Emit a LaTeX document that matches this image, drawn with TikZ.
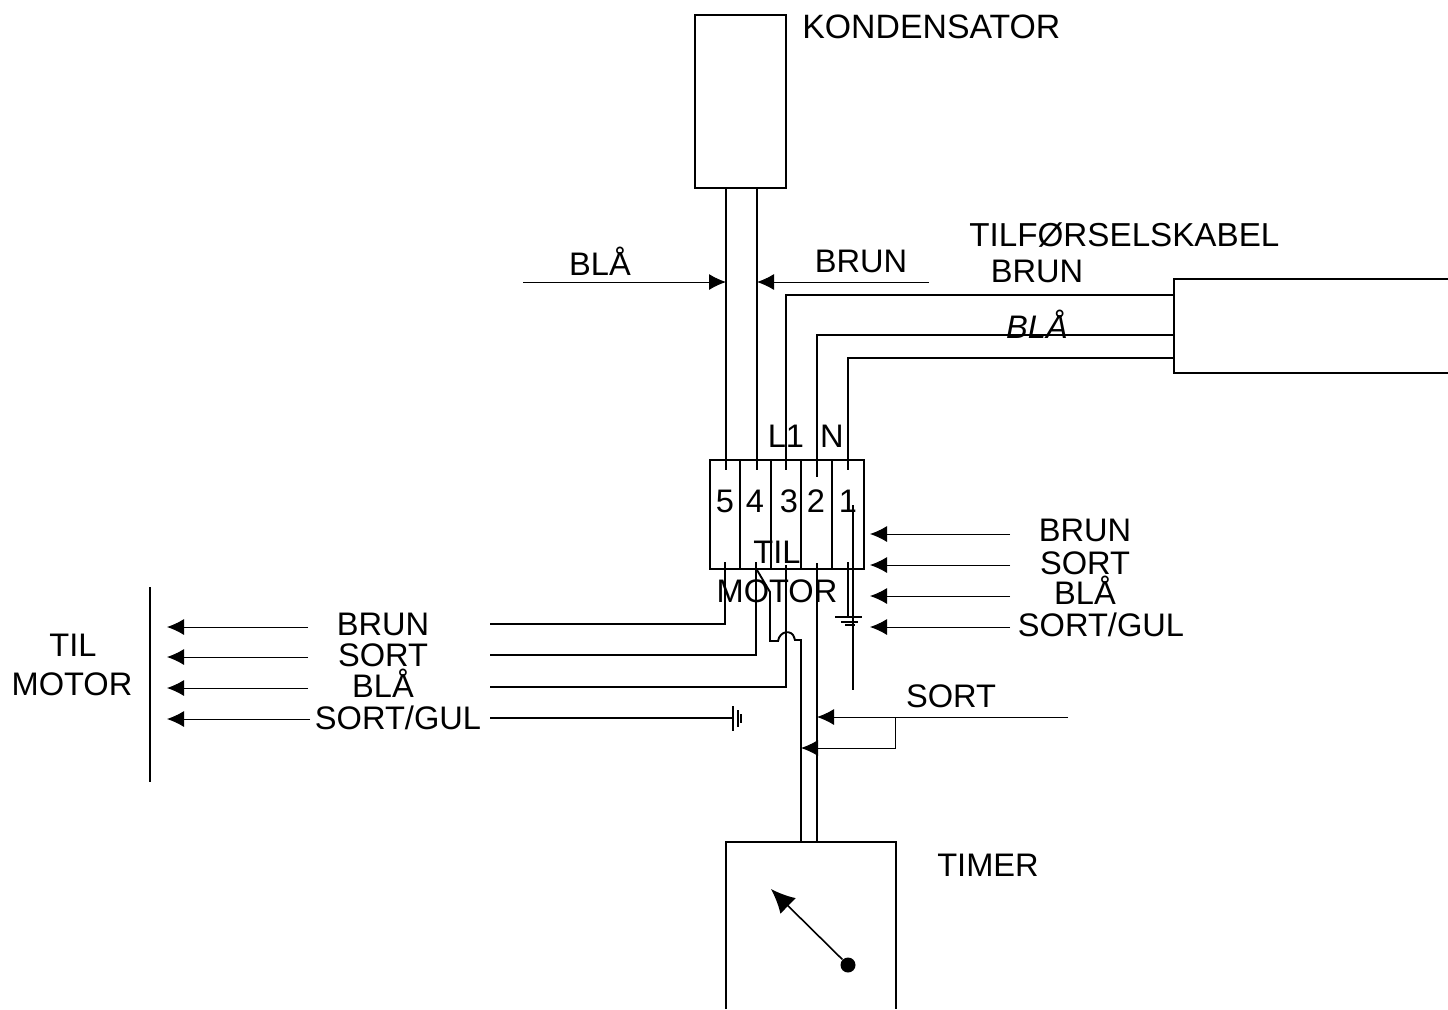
\documentclass[tikz,border=0pt]{standalone}
\usepackage{fontspec}
\setmainfont{Liberation Sans}
\usetikzlibrary{arrows.meta}
\begin{document}
\begin{tikzpicture}[x=0.5pt,y=-0.5pt,
  wire/.style={line width=0.95pt},
  thin wire/.style={line width=0.65pt},
  box/.style={draw,line width=0.9pt,inner sep=0pt,outer sep=0pt,anchor=north west},
  arr/.style={line width=0.5pt,-{Latex[length=8.5pt,width=8pt]}},
  needle/.style={line width=0.8pt,-{Latex[length=12pt,width=11pt]}},
  lab/.style={font=\fontsize{16.3pt}{16.3pt}\selectfont,inner sep=0pt,anchor=base},
  dot/.style={circle,fill,inner sep=0pt,minimum size=7.5pt}]
\useasboundingbox (0,0) rectangle (1448,1009);
% boxes
\node[box,minimum width=45.5pt,minimum height=86.5pt] (cap) at (695,15) {};
\node[box,minimum width=77pt,minimum height=54.5pt] (block) at (710,460) {};
% cable (open to the right)
\coordinate (cabTL) at (1448,279); \coordinate (cabBL) at (1448,373);
\draw[line width=0.9pt] (cabTL) -- (1174,279) -- (1174,373) -- (cabBL);
% timer (open at bottom)
\coordinate (tBL) at (726,1009); \coordinate (tBR) at (896,1009);
\draw[line width=0.9pt] (tBL) -- (726,842) -- (896,842) -- (tBR);
% terminal dividers
\foreach \x in {740,771,801,832} \draw[line width=0.7pt] (\x,460) -- (\x,569);
% capacitor wires
\draw[wire] (726,188) -- (726,470);
\draw[wire] (757,188) -- (757,470);
% supply wires
\draw[wire] (1174,295) -- (786,295) -- (786,470);
\draw[wire] (1174,335) -- (817,335) -- (817,477);
\draw[wire] (1174,358) -- (848,358) -- (848,470);
% below block
\draw[wire] (725,562) -- (725,624) -- (490,624);
\draw[wire] (756,562) -- (756,655) -- (490,655);
\draw[wire] (786,565) -- (786,687) -- (490,687);
\draw[wire] (817,563) -- (817,842);
\draw[wire] (848,562) -- (848,617);
\draw[thin wire] (853,505) -- (853,690);
% hump wire
\draw[wire] (757,570) -- (770,592) -- (770,641) -- (778,641)
  .. controls (780,630) and (792,630) .. (794,637) -- (795,640) -- (801,640) -- (801,842);
% earth block
\draw[wire] (835,617) -- (862,617);
\draw[wire] (841,622) -- (858,622);
\draw[wire] (845,625) -- (855,625);
% left group
\draw[line width=0.7pt] (150,587) -- (150,782);
\foreach \y in {627,657,688} \draw[arr] (308,\y) -- (167,\y);
\draw[arr] (310,719) -- (167,719);
\draw[wire] (490,718) -- (733,718);
\draw[wire] (733,706) -- (733,731);
\draw[thin wire] (738,710) -- (738,727);
\draw[wire] (741,714) -- (741,723);
% right arrows
\foreach \y in {534,565,596,627} \draw[arr] (1010,\y) -- (870,\y);
% top arrows
\draw[arr] (523,282) -- (726,282);
\draw[arr] (929,282) -- (757,282);
% sort arrows
\draw[arr] (1068,717) -- (817,717);
\draw[arr] (895,717) -- (895,748) -- (801,748);
% timer needle
\node[dot] (hub) at (848,965) {};
\coordinate (tip) at (771,889);
\draw[needle] (hub) -- (tip);
% labels
\node[lab,anchor=base west,font=\fontsize{16.9pt}{16.9pt}\selectfont] (l1) at (802,38) {KONDENSATOR};
\node[lab] (l2) at (600,275) {BLÅ};
\node[lab] (l3) at (861,272) {BRUN};
\node[lab,anchor=base west,font=\fontsize{16.6pt}{16.6pt}\selectfont] (l4) at (969,246) {TILFØRSELSKABEL};
\node[lab] (l5) at (1037,282) {BRUN};
\node[lab] (l6) at (1037,338) {\itshape BLÅ};
\node[lab] (l7) at (786,447) {L1};
\node[lab] (l8) at (832,447) {N};
\node[lab] (n5) at (725,512) {5};
\node[lab] (n4) at (755,512) {4};
\node[lab] (n3) at (789,512) {3};
\node[lab] (n2) at (816,512) {2};
\node[lab] (n1) at (848,512) {1};
\node[lab] (m1) at (777,563) {TIL};
\node[lab] (m2) at (777,602) {MOTOR};
\node[lab] (r1) at (1085,541) {BRUN};
\node[lab] (r2) at (1085,574) {SORT};
\node[lab] (r3) at (1085,604) {BLÅ};
\node[lab] (r4) at (1101,636) {SORT/GUL};
\node[lab] (a1) at (383,635) {BRUN};
\node[lab] (a2) at (383,666) {SORT};
\node[lab] (a3) at (383,697) {BLÅ};
\node[lab] (a4) at (398,729) {SORT/GUL};
\node[lab] (t1) at (73,656) {TIL};
\node[lab] (t2) at (72,695) {MOTOR};
\node[lab] (s1) at (951,707) {SORT};
\node[lab] (tm) at (988,876) {TIMER};
\end{tikzpicture}
\end{document}
